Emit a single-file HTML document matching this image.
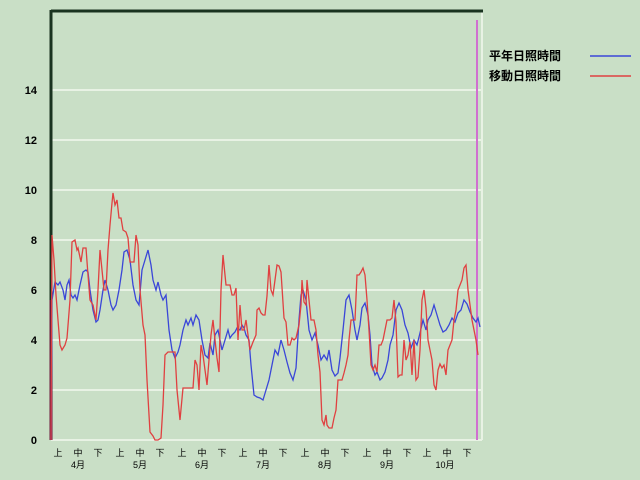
<!DOCTYPE html>
<html><head><meta charset="utf-8"><style>
body{margin:0;background:#c9dfc6;}
svg{display:block;font-family:"Liberation Sans","Noto Sans CJK JP",sans-serif;}
</style></head><body>
<svg width="640" height="480" viewBox="0 0 640 480">
<rect width="640" height="480" fill="#c9dfc6"/>
<g stroke="#e8f2e4" stroke-width="2">
<line x1="51" y1="390" x2="482" y2="390"/><line x1="51" y1="340" x2="482" y2="340"/>
<line x1="51" y1="290" x2="482" y2="290"/><line x1="51" y1="240" x2="482" y2="240"/>
<line x1="51" y1="190" x2="482" y2="190"/><line x1="51" y1="140" x2="482" y2="140"/>
<line x1="51" y1="90" x2="482" y2="90"/>
<line x1="51" y1="440" x2="482" y2="440"/><line x1="482" y1="12" x2="482" y2="440"/>
</g>
<line x1="51" y1="11" x2="483" y2="11" stroke="#1a3320" stroke-width="3"/>
<line x1="51" y1="10" x2="51" y2="440" stroke="#1a3320" stroke-width="3"/>
<line x1="51" y1="300" x2="51" y2="440" stroke="#6a1a3a" stroke-width="3"/>
<line x1="477" y1="20" x2="477" y2="440" stroke="#d070d0" stroke-width="2"/>
<g font-size="11" font-weight="bold" text-anchor="end" fill="#000">
<text x="37" y="444">0</text><text x="37" y="394">2</text><text x="37" y="344">4</text>
<text x="37" y="294">6</text><text x="37" y="244">8</text><text x="37" y="194">10</text>
<text x="37" y="144">12</text><text x="37" y="94">14</text>
</g>
<g font-size="9" text-anchor="middle" fill="#000">
<text x="58" y="456">上</text><text x="78" y="456">中</text><text x="98" y="456">下</text>
<text x="120" y="456">上</text><text x="140" y="456">中</text><text x="160" y="456">下</text>
<text x="182" y="456">上</text><text x="202" y="456">中</text><text x="222" y="456">下</text>
<text x="243" y="456">上</text><text x="263" y="456">中</text><text x="283" y="456">下</text>
<text x="305" y="456">上</text><text x="325" y="456">中</text><text x="345" y="456">下</text>
<text x="367" y="456">上</text><text x="387" y="456">中</text><text x="407" y="456">下</text>
<text x="427" y="456">上</text><text x="447" y="456">中</text><text x="467" y="456">下</text>
<text x="78" y="468">4月</text><text x="140" y="468">5月</text><text x="202" y="468">6月</text>
<text x="263" y="468">7月</text><text x="325" y="468">8月</text><text x="387" y="468">9月</text>
<text x="445" y="468">10月</text>
</g>
<g font-size="12" font-weight="bold" fill="#000">
<text x="489" y="60">平年日照時間</text><text x="489" y="80">移動日照時間</text>
</g>
<line x1="590" y1="56" x2="631" y2="56" stroke="#3a46d8" stroke-width="1.5"/>
<line x1="590" y1="76" x2="631" y2="76" stroke="#e04040" stroke-width="1.5"/>
<polyline fill="none" stroke="#3a46d8" stroke-width="1.3" points="51,440 52,300 55,282 58,285 60,282 63,290 65,300 67,285 69,280 71,295 73,298 75,295 77,300 80,285 83,272 86,270 88,272 90,290 93,310 96,322 98,320 100,310 103,290 105,280 108,290 111,305 113,310 116,305 119,290 122,270 124,252 127,250 130,260 133,285 136,300 139,305 142,270 145,260 148,250 151,265 153,280 156,290 158,282 161,295 163,300 166,295 169,330 172,350 175,358 178,352 180,345 183,330 186,320 188,325 191,318 193,325 196,315 199,320 202,340 205,355 208,358 210,343 213,355 215,335 218,330 220,340 222,350 225,340 228,330 230,338 232,335 235,332 237,328 240,330 242,325 244,328 246,335 249,340 251,365 254,395 257,397 260,398 263,400 266,390 269,380 272,365 275,350 278,355 281,340 284,350 287,362 290,373 293,380 296,368 299,320 301,295 303,290 306,300 309,330 312,340 315,333 318,345 321,360 324,355 327,360 329,350 332,370 335,376 338,373 340,358 343,330 346,300 349,295 352,310 355,330 357,340 360,325 362,308 365,303 368,315 370,335 372,365 375,375 377,372 380,380 382,378 385,372 388,360 390,345 393,335 396,310 399,303 402,310 405,325 408,333 411,348 414,340 417,345 420,333 423,320 426,330 428,320 431,315 434,305 437,315 440,325 443,332 446,330 449,325 452,318 455,322 458,313 461,310 464,300 467,304 470,312 473,318 476,322 478,318 480,327"/>
<polyline fill="none" stroke="#e04040" stroke-width="1.3" points="51,440 52,235 54,260 56,295 58,320 60,345 62,350 65,345 67,338 70,300 72,242 75,240 77,250 78,248 81,262 83,248 86,248 88,275 90,300 93,305 95,315 96,320 98,290 100,250 102,270 104,290 106,290 108,250 110,225 112,203 113,193 115,205 117,200 119,218 121,218 123,230 126,232 128,238 130,262 134,262 136,235 138,245 140,290 143,325 145,335 147,380 150,432 153,436 155,440 158,440 161,438 163,405 165,355 168,352 172,352 175,352 177,390 180,420 183,388 186,388 190,388 193,388 195,360 197,365 199,390 201,345 203,355 205,370 207,385 209,360 211,335 213,320 215,340 217,358 219,372 221,290 223,255 226,285 230,285 232,295 234,295 236,288 238,340 240,305 242,330 244,330 246,320 248,335 250,350 253,342 256,335 257,310 259,308 261,313 263,315 265,315 267,296 269,265 271,290 273,295 275,280 277,265 279,266 281,272 284,318 286,322 288,345 290,345 292,338 294,340 296,338 299,325 301,305 302,280 304,302 306,305 307,280 309,300 311,320 314,320 316,330 318,355 320,372 322,420 324,425 326,415 327,425 329,428 332,428 334,418 336,410 338,380 340,380 342,380 344,373 346,365 348,355 349,340 351,320 355,320 357,275 359,275 361,272 363,268 365,275 367,300 369,330 371,365 373,370 375,365 377,372 379,345 381,345 383,340 385,330 387,320 390,320 392,318 394,300 396,322 398,377 400,375 402,375 404,340 406,360 408,355 410,342 412,375 414,340 416,380 418,377 420,350 422,300 424,290 426,308 428,340 430,350 432,360 434,385 436,390 438,370 440,364 442,368 444,365 446,375 448,350 450,345 452,340 454,320 456,310 458,290 460,285 462,280 464,268 466,265 468,290 470,305 472,320 474,330 476,340 478,355"/>
</svg>
</body></html>
